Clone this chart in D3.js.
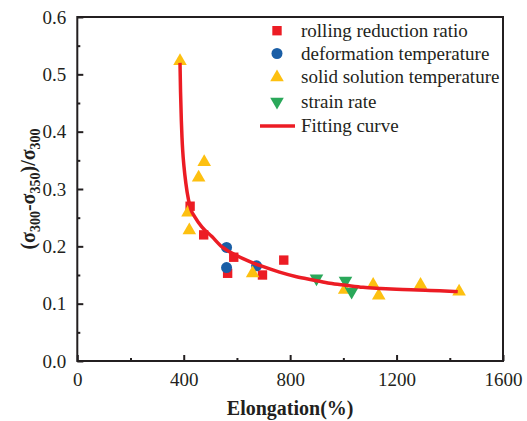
<!DOCTYPE html>
<html><head><meta charset="utf-8">
<script src="https://cdn.jsdelivr.net/npm/d3@7"></script>
<style>body{margin:0;background:#fff}svg{display:block}
svg text{font-family:"Liberation Serif","Times New Roman","DejaVu Serif",serif !important;}
</style>
</head><body>
<script>
// ---- data ----
const rollingX = [424, 475, 588, 565, 696, 776];
const rollingY = [0.270, 0.220, 0.181, 0.153, 0.150, 0.176];
const deformX = [561, 561, 674];
const deformY = [0.198, 0.163, 0.166];
const solidX = [386, 477, 456, 416, 421, 659, 1005, 1112, 1133, 1290, 1435];
const solidY = [0.523, 0.347, 0.320, 0.259, 0.228, 0.153, 0.124, 0.133, 0.114, 0.133, 0.121];
const strainX = [899, 1008, 1031];
const strainY = [0.144, 0.140, 0.121];
const fitX = [386, 388, 391, 393.5, 396, 401, 408, 418, 428, 441, 468, 506, 544, 574, 640, 699, 760, 824, 890, 949, 1010, 1074, 1140, 1200, 1280, 1362, 1430];
const fitY = [0.52, 0.47, 0.42, 0.39, 0.368, 0.339, 0.310, 0.281, 0.263, 0.252, 0.234, 0.217, 0.199, 0.190, 0.175, 0.1645, 0.155, 0.147, 0.141, 0.1355, 0.132, 0.1285, 0.1265, 0.125, 0.1238, 0.1226, 0.121];
const xTicks = [0, 400, 800, 1200, 1600];
const yTicks = [0.0, 0.1, 0.2, 0.3, 0.4, 0.5, 0.6];
const legendLabels = ["rolling reduction ratio", "deformation temperature", "solid solution temperature", "strain rate", "Fitting curve"];

// ---- setup ----
const W = 527, H = 421;
const m = {l: 77.3, r: 503, t: 17, b: 361};
const svg = d3.select("body").append("svg").attr("width", W).attr("height", H);
const x = d3.scaleLinear().domain([0, 1600]).range([m.l, m.r]);
const y = d3.scaleLinear().domain([0, 0.6]).range([m.b, m.t]);

const RED = "#ec1c24", BLUE = "#1a5ea6", YEL = "#fdc010", GRN = "#2aa85a";

// frame
svg.append("rect").attr("x", m.l).attr("y", m.t).attr("width", m.r - m.l).attr("height", m.b - m.t)
  .attr("fill", "none").attr("stroke", "#231f20").attr("stroke-width", 2);

// axes (ticks inside)
const xAxis = d3.axisBottom(x).tickValues(xTicks).tickSizeInner(-6).tickSizeOuter(0).tickPadding(12).tickFormat(d3.format("d"));
const gx = svg.append("g").attr("transform", `translate(0,${m.b})`).call(xAxis);
const xMinor = d3.axisBottom(x).tickValues([200, 600, 1000, 1400]).tickSizeInner(-3).tickSizeOuter(0).tickFormat("");
const gxm = svg.append("g").attr("transform", `translate(0,${m.b})`).call(xMinor);
const yAxis = d3.axisLeft(y).tickValues(yTicks).tickSizeInner(-6).tickSizeOuter(0).tickPadding(11).tickFormat(d3.format(".1f"));
const gy = svg.append("g").attr("transform", `translate(${m.l},0)`).call(yAxis);
const yMinor = d3.axisLeft(y).tickValues([0.05, 0.15, 0.25, 0.35, 0.45, 0.55]).tickSizeInner(-3).tickSizeOuter(0).tickFormat("");
const gym = svg.append("g").attr("transform", `translate(${m.l},0)`).call(yMinor);
[gx, gxm, gy, gym].forEach(g => {
  g.attr("font-family", null);
  g.select(".domain").remove();
  g.selectAll("line").attr("stroke", "#231f20").attr("stroke-width", 2);
  g.selectAll("text").attr("font-size", 19).attr("fill", "#231f20");
});

// axis titles
svg.append("text").attr("x", (m.l + m.r) / 2).attr("y", 415).attr("text-anchor", "middle")
  .attr("font-weight", "bold").attr("font-size", 20).attr("fill", "#231f20")
  .text("Elongation(%)");
const yt = svg.append("text").attr("transform", `translate(35,${(m.t + m.b) / 2}) rotate(-90)`)
  .attr("text-anchor", "middle").attr("font-weight", "bold")
  .attr("font-size", 20).attr("fill", "#231f20");
const parts = [["(σ", 0], ["300", 1], ["-σ", 0], ["350", 1], [")/σ", 0], ["300", 1]];
let prevSub = 0;
parts.forEach(([t, sub]) => {
  const ts = yt.append("tspan").text(t);
  const dy = (sub ? 5 : 0) - (prevSub ? 5 : 0);
  if (dy) ts.attr("dy", dy);
  if (sub) ts.attr("font-size", 14);
  prevSub = sub;
});

// markers
const sq = d3.symbol().type(d3.symbolSquare).size(88);
const circ = d3.symbol().type(d3.symbolCircle).size(95);
const triUp = d3.symbol().type(d3.symbolTriangle).size(80);
const plot = svg.append("g");
function drawSet(xs, ys, sym, color, rot) {
  plot.selectAll(null).data(xs.map((v, i) => [v, ys[i]])).enter().append("path")
    .attr("d", sym).attr("fill", color)
    .attr("transform", d => `translate(${x(d[0])},${y(d[1])})` + (rot ? " rotate(180)" : ""));
}
drawSet(rollingX, rollingY, sq, RED, false);
drawSet(deformX, deformY, circ, BLUE, false);
drawSet(solidX, solidY, triUp, YEL, false);
drawSet(strainX, strainY, triUp, GRN, true);

// fitting curve
const fit = fitX.map((v, i) => [v, fitY[i]]);
svg.append("path").datum(fit).attr("fill", "none").attr("stroke", RED).attr("stroke-width", 3.5)
  .attr("d", d3.line().x(d => x(d[0])).y(d => y(d[1])).curve(d3.curveMonotoneX));

// legend
const lg = svg.append("g");
const rows = [30.7, 53.5, 77.3, 101.7, 126];
const syms = [[sq, RED, false], [circ, BLUE, false], [triUp, YEL, false], [triUp, GRN, true]];
legendLabels.forEach((lab, i) => {
  if (i < 4) {
    lg.append("path").attr("d", syms[i][0]).attr("fill", syms[i][1])
      .attr("transform", `translate(277,${rows[i]})` + (syms[i][2] ? " rotate(180)" : ""));
  } else {
    lg.append("line").attr("x1", 260).attr("x2", 295).attr("y1", rows[i]).attr("y2", rows[i])
      .attr("stroke", RED).attr("stroke-width", 3.5);
  }
  lg.append("text").attr("x", 301).attr("y", rows[i] + 6)
    .attr("font-size", 19).attr("fill", "#231f20").text(lab);
});
</script>
</body></html>
